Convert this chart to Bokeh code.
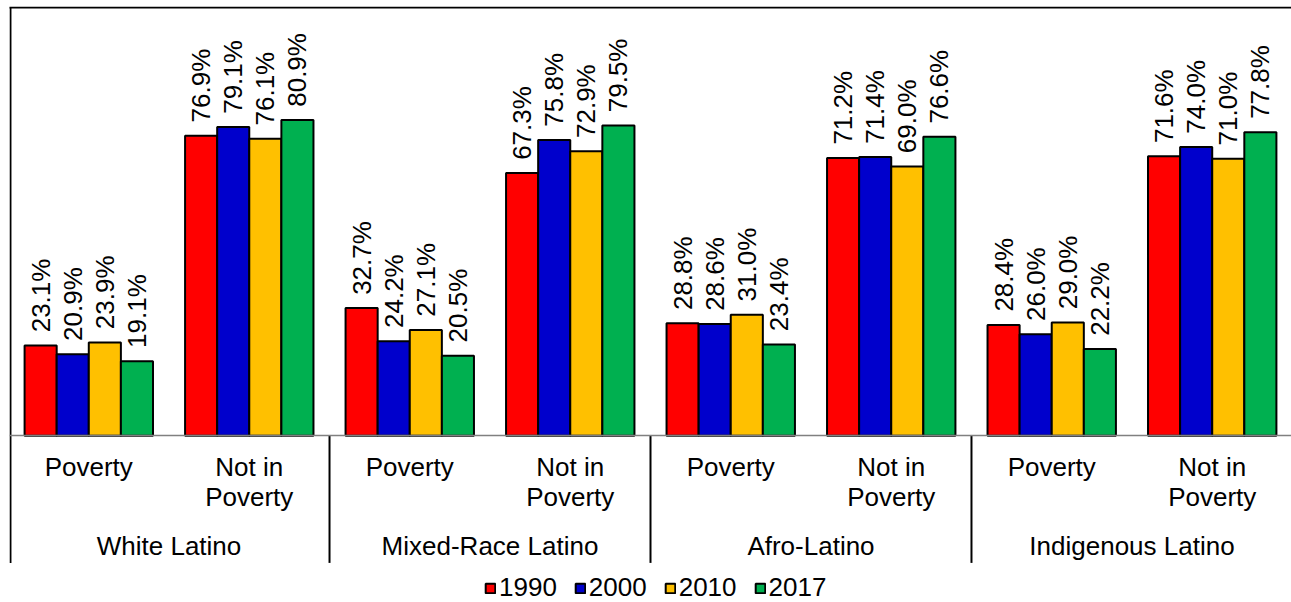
from math import pi

from bokeh.core.properties import value
from bokeh.embed import file_html
from bokeh.models import ColumnDataSource, FactorRange, Legend, LegendItem, Range1d
from bokeh.plotting import figure
from bokeh.resources import INLINE
from bokeh.transform import dodge

# Poverty status of Latinos by racial identity, four census years
groups = ["White Latino", "Mixed-Race Latino", "Afro-Latino", "Indigenous Latino"]
statuses = ["Poverty", "Not in\nPoverty"]
years = ["1990", "2000", "2010", "2017"]

share_1990 = [23.1, 76.9, 32.7, 67.3, 28.8, 71.2, 28.4, 71.6]
share_2000 = [20.9, 79.1, 24.2, 75.8, 28.6, 71.4, 26.0, 74.0]
share_2010 = [23.9, 76.1, 27.1, 72.9, 31.0, 69.0, 29.0, 71.0]
share_2017 = [19.1, 80.9, 20.5, 79.5, 23.4, 76.6, 22.2, 77.8]

series = [share_1990, share_2000, share_2010, share_2017]
colors = ["#FF0000", "#0000CC", "#FFC000", "#00B050"]
offsets = [-0.3, -0.1, 0.1, 0.3]

factors = [(g, s) for g in groups for s in statuses]

FONT = "Liberation Sans"
FS = "26px"

p = figure(
    width=1291,
    height=602,
    x_range=FactorRange(*factors, group_padding=0, factor_padding=0,
                        range_padding=-0.006, range_padding_units="absolute"),
    y_range=Range1d(-42.75, 110),
    output_backend="svg",
    toolbar_location=None,
    min_border_left=9,
    min_border_right=0,
    min_border_top=6,
    min_border_bottom=0,
    outline_line_color=None,
)

legend_items = []
for yr, vals, col, off in zip(years, series, colors, offsets):
    src = ColumnDataSource(dict(
        x=factors,
        y=vals,
        ly=[v + 3.4 for v in vals],
        label=[f"{v:.1f}%" for v in vals],
    ))
    r = p.vbar(x=dodge("x", off, range=p.x_range), top="y", width=0.2, source=src,
               fill_color=col, line_color="black", line_width=2)
    p.text(x=dodge("x", off, range=p.x_range), y="ly", text="label", source=src,
           angle=pi / 2, text_align="left", text_baseline="middle",
           text_font=value(FONT), text_font_size=FS, text_color="black")
    legend_items.append(LegendItem(label=yr, renderers=[r]))

# frame edges and group separators running through the label area
bottom = -32.6
p.segment(x0=[0.012, 0.0], y0=[109.75, 109.75], x1=[0.012, 8.0], y1=[bottom, 109.75],
          line_color="black", line_width=2)
p.segment(x0=[2, 4, 6], y0=[0, 0, 0], x1=[2, 4, 6], y1=[bottom] * 3,
          line_color="black", line_width=2)

ax = p.xaxis[0]
ax.fixed_location = 0
ax.axis_line_color = "#808080"
ax.axis_line_width = 1.5
ax.major_tick_line_color = None
ax.major_tick_in = 0
ax.major_tick_out = 0
ax.minor_tick_line_color = None
ax.major_label_standoff = 16
ax.major_label_text_font = FONT
ax.major_label_text_font_size = FS
ax.major_label_text_line_height = 1.0
ax.major_label_text_color = "black"
ax.group_text_font = FONT
ax.group_text_font_size = FS
ax.group_text_font_style = "normal"
ax.group_text_color = "black"
ax.separator_line_color = None

p.yaxis.visible = False
p.xgrid.visible = False
p.ygrid.visible = False

legend = Legend(items=legend_items, orientation="horizontal", location=(475, -1),
                border_line_color=None, background_fill_alpha=0,
                glyph_width=12, glyph_height=12, label_standoff=3, spacing=17,
                label_text_font=FONT, label_text_font_size=FS, label_text_color="black",
                label_height=26, padding=0, margin=0)
p.add_layout(legend)

open("out.html", "w").write(file_html(p, INLINE))
